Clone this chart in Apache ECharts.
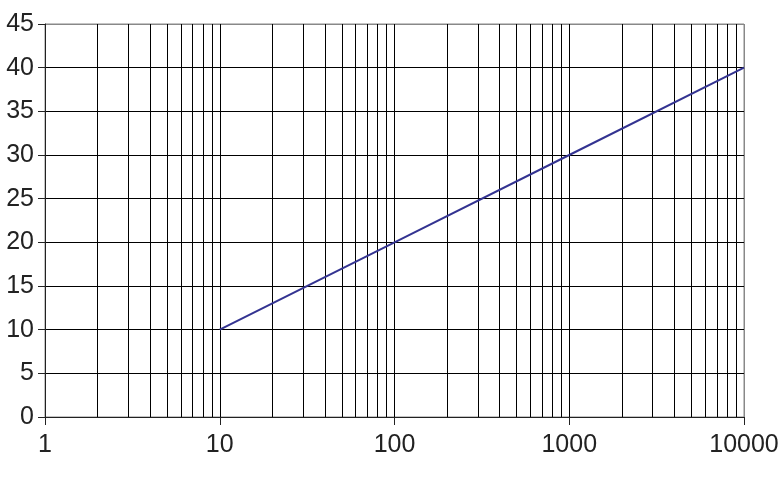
<!DOCTYPE html>
<html><head><meta charset="utf-8">
<script src="https://cdn.jsdelivr.net/npm/echarts@6/dist/echarts.min.js"></script>
<style>html,body{margin:0;padding:0;background:#fff}#c{width:783px;height:478px}</style>
</head><body><div id="c"></div>
<script>
var xValues = [10, 100, 1000, 10000];
var yValues = [10, 20, 30, 40];
var minorGridX = [2,3,4,5,6,7,8,9,20,30,40,50,60,70,80,90,200,300,400,500,600,700,800,900,2000,3000,4000,5000,6000,7000,8000,9000];
var yTicks = [0,5,10,15,20,25,30,35,40,45];

var chart = echarts.init(document.getElementById('c'));
var lab = {color:'#222', fontSize:25, fontFamily:'Liberation Sans, Arial, sans-serif'};
chart.setOption({
  animation:false,
  grid:{left:45,right:39,top:24,bottom:61,show:true,borderColor:'#888',borderWidth:1,backgroundColor:'transparent'},
  xAxis:{type:'log',logBase:10,min:1,max:10000,
    axisLine:{lineStyle:{color:'#222',width:1}},
    axisTick:{show:true,length:8,lineStyle:{color:'#222'}},
    axisLabel:Object.assign({margin:16,formatter:function(v){return String(v);}},lab),
    splitLine:{show:true,lineStyle:{color:['#000','#000','#000','#000','#888'],width:1}},
    minorTick:{show:false},minorSplitLine:{show:false}},
  yAxis:{type:'value',min:0,max:45,interval:5,
    axisLine:{show:true,lineStyle:{color:'#222',width:1}},
    axisTick:{show:true,length:7,lineStyle:{color:'#222'}},
    axisLabel:Object.assign({margin:11},lab),
    splitLine:{show:true,lineStyle:{color:yTicks.map(function(v,i){return i===yTicks.length-1?'#888':'#000';}),width:1}}},
  series:[
    {type:'line',data:[],silent:true,
      markLine:{silent:true,symbol:['none','none'],label:{show:false},animation:false,
        lineStyle:{color:'#000',width:1,type:'solid'},
        data:minorGridX.map(function(v){return {xAxis:v};})}},
    {type:'line',data:xValues.map(function(x,i){return [x,yValues[i]];}),
      showSymbol:false,symbol:'none',lineStyle:{color:'#333391',width:2},z:5}
  ]
});
</script></body></html>
